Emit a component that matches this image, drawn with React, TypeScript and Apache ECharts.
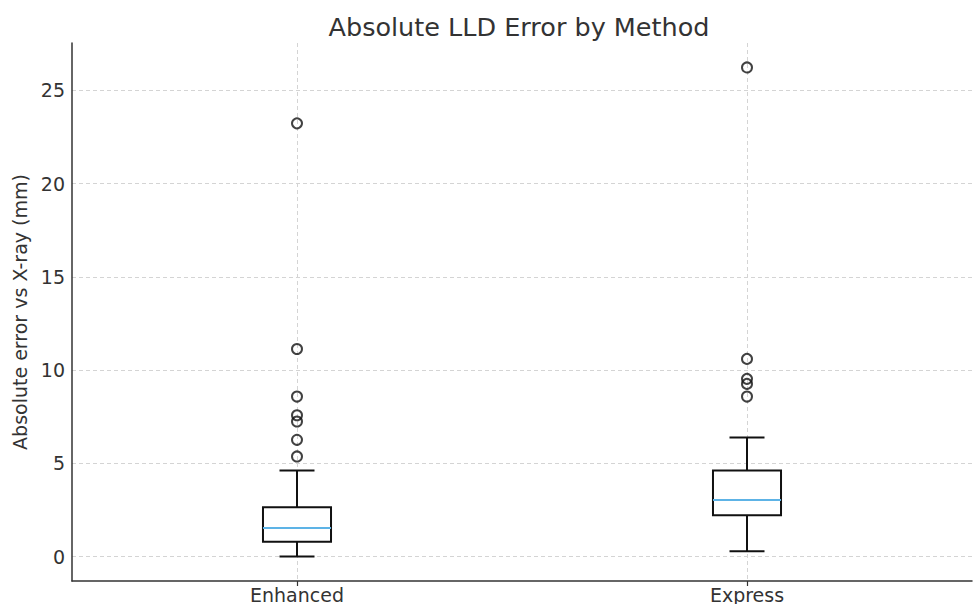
import React, { useEffect, useRef } from "react";
import * as echarts from "echarts";

const categories = ["Enhanced", "Express"];
const whiskerLow = [0.0, 0.28];
const q1 = [0.79, 2.21];
const median = [1.53, 3.03];
const q3 = [2.64, 4.62];
const whiskerHigh = [4.62, 6.39];
const outliersEnhanced = [5.37, 6.26, 7.24, 7.58, 8.58, 11.13, 23.23];
const outliersExpress = [8.58, 9.26, 9.53, 10.6, 26.23];
const yTicks = [0, 5, 10, 15, 20, 25];

const FONT = "'DejaVu Sans', sans-serif";
const TEXT = "#333333";

export default function App() {
  const ref = useRef<HTMLDivElement>(null);
  useEffect(() => {
    if (!ref.current) return;
    const chart = echarts.init(ref.current, undefined, { renderer: "svg" });
    const boxData = categories.map((_, i) => [
      i + 1,
      whiskerLow[i],
      q1[i],
      median[i],
      q3[i],
      whiskerHigh[i],
    ]);
    const outlierData: number[][] = [];
    outliersEnhanced.forEach((v) => outlierData.push([1, v]));
    outliersExpress.forEach((v) => outlierData.push([2, v]));

    const BOX_HALF = 0.0756;
    const CAP_HALF = 0.0389;

    chart.setOption({
      animation: false,
      title: {
        text: "Absolute LLD Error by Method",
        left: 514,
        top: 9,
        textAlign: "center",
        textStyle: { fontFamily: FONT, fontSize: 25.5, fontWeight: "normal", color: TEXT },
      },
      grid: { left: 72, right: 2, top: 43, bottom: 23, containLabel: false },
      xAxis: {
        type: "value",
        min: 0.5,
        max: 2.5,
        axisLine: { show: true, onZero: false, lineStyle: { color: "#333", width: 1.5 } },
        axisTick: { show: true, length: 5, customValues: [1, 2], lineStyle: { color: "#333", width: 1.2 } },
        axisLabel: {
          customValues: [1, 2],
          formatter: (v: number) => categories[Math.round(v) - 1] ?? "",
          fontFamily: FONT,
          fontSize: 19,
          color: TEXT,
          margin: 4,
        },
        splitLine: { show: true, lineStyle: { color: "#d4d4d4", type: [4, 3], width: 1 } },
      },
      yAxis: {
        type: "value",
        min: -1.31,
        max: 27.54,
        name: "Absolute error vs X-ray (mm)",
        nameLocation: "middle",
        nameGap: 42,
        nameTextStyle: { fontFamily: FONT, fontSize: 19, color: TEXT },
        axisLine: { show: true, onZero: false, lineStyle: { color: "#333", width: 1.5 } },
        axisTick: { show: false, customValues: yTicks },
        axisLabel: { customValues: yTicks, fontFamily: FONT, fontSize: 19, color: TEXT, margin: 7 },
        splitLine: { show: true, lineStyle: { color: "#d4d4d4", type: [4, 3], width: 1 } },
      },
      series: [
        {
          type: "custom",
          data: boxData,
          encode: { x: 0, y: [1, 2, 3, 4, 5] },
          renderItem: (params: any, api: any) => {
            const x = api.value(0);
            const lo = api.coord([x, api.value(1)]);
            const b1 = api.coord([x, api.value(2)]);
            const md = api.coord([x, api.value(3)]);
            const b3 = api.coord([x, api.value(4)]);
            const hi = api.coord([x, api.value(5)]);
            const hw = api.size([BOX_HALF, 0])[0];
            const cw = api.size([CAP_HALF, 0])[0];
            const stroke = { stroke: "#111", lineWidth: 2, fill: "none" };
            return {
              type: "group",
              children: [
                { type: "line", shape: { x1: hi[0], y1: hi[1], x2: b3[0], y2: b3[1] }, style: stroke },
                { type: "line", shape: { x1: lo[0], y1: lo[1], x2: b1[0], y2: b1[1] }, style: stroke },
                { type: "line", shape: { x1: hi[0] - cw, y1: hi[1], x2: hi[0] + cw, y2: hi[1] }, style: stroke },
                { type: "line", shape: { x1: lo[0] - cw, y1: lo[1], x2: lo[0] + cw, y2: lo[1] }, style: stroke },
                {
                  type: "rect",
                  shape: { x: b3[0] - hw, y: b3[1], width: hw * 2, height: b1[1] - b3[1] },
                  style: { stroke: "#111", lineWidth: 2, fill: "#ffffff" },
                },
                {
                  type: "line",
                  shape: { x1: md[0] - hw, y1: md[1], x2: md[0] + hw, y2: md[1] },
                  style: { stroke: "#5DB3E6", lineWidth: 2 },
                },
              ],
            };
          },
          z: 3,
        },
        {
          type: "scatter",
          data: outlierData,
          symbol: "circle",
          symbolSize: 10,
          itemStyle: { color: "rgba(0,0,0,0)", borderColor: "#111", borderWidth: 2 },
          z: 4,
        },
      ],
    });
    return () => chart.dispose();
  }, []);
  return (
    <div
      ref={ref}
      style={{ position: "fixed", left: 0, top: 0, width: 974, height: 604, background: "#fff" }}
    />
  );
}
